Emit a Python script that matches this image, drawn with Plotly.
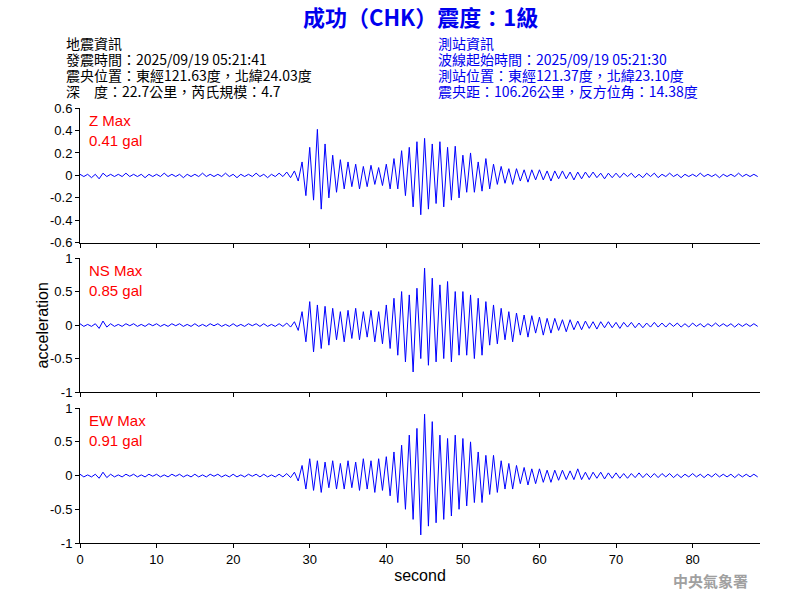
import plotly.graph_objects as go
from plotly.subplots import make_subplots

step = 0.5
z_vals = [0.01,-0.01,0.01,-0.02,0.01,-0.03,0.02,-0.01,0.01,-0.01,0.01,-0.01,0.02,-0.01,0.01,-0.01,0.01,-0.02,0.01,-0.01,
0.01,-0.01,0.02,-0.01,0.01,-0.01,0.01,-0.02,0.01,-0.01,0.01,-0.01,0.02,-0.01,0.01,-0.01,0.01,-0.01,0.02,-0.01,
0.01,-0.02,0.01,-0.01,0.01,-0.01,0.02,-0.01,0.01,-0.02,0.01,-0.01,0.02,-0.01,0.03,-0.02,0.04,-0.05,
0.12,-0.18,0.25,-0.22,0.41,-0.30,0.28,-0.20,0.18,-0.15,0.14,-0.12,0.12,-0.10,0.10,-0.12,0.08,-0.10,0.09,-0.08,0.07,-0.09,
0.10,-0.12,0.15,-0.12,0.22,-0.18,0.25,-0.28,0.30,-0.35,0.33,-0.30,0.28,-0.25,0.30,-0.28,0.25,-0.22,0.26,-0.20,
0.18,-0.15,0.20,-0.15,0.12,-0.14,0.15,-0.12,0.10,-0.08,0.08,-0.07,0.06,-0.08,0.06,-0.05,0.05,-0.06,0.05,-0.04,
0.05,-0.04,0.04,-0.05,0.04,-0.03,0.04,-0.03,0.03,-0.04,0.03,-0.03,0.03,-0.02,0.03,-0.02,0.02,-0.03,0.02,-0.02,
0.02,-0.02,0.02,-0.01,0.02,-0.02,0.01,-0.02,0.02,-0.01,0.02,-0.02,0.01,-0.01,0.02,-0.01,0.01,-0.02,0.01,-0.01,
0.01,-0.01,0.02,-0.01,0.01,-0.01,0.01,-0.02,0.01,-0.01,0.01,-0.01,0.02,-0.01,0.01,-0.01,0.01,-0.01]
ns_vals = [0.02,-0.02,0.01,-0.02,0.02,-0.05,0.06,-0.03,0.02,-0.02,0.01,-0.02,0.02,-0.01,0.02,-0.02,0.01,-0.02,0.02,-0.01,
0.02,-0.02,0.01,-0.02,0.02,-0.01,0.02,-0.02,0.01,-0.02,0.02,-0.02,0.01,-0.02,0.02,-0.01,0.02,-0.02,0.01,-0.02,
0.02,-0.02,0.01,-0.02,0.02,-0.01,0.02,-0.02,0.02,-0.02,0.01,-0.02,0.02,-0.02,0.03,-0.03,0.05,-0.08,
0.20,-0.25,0.35,-0.40,0.30,-0.35,0.28,-0.30,0.25,-0.22,0.20,-0.25,0.22,-0.20,0.25,-0.22,0.20,-0.18,0.22,-0.25,0.20,-0.28,
0.30,-0.35,0.40,-0.45,0.50,-0.55,0.45,-0.70,0.55,-0.50,0.85,-0.60,0.70,-0.55,0.60,-0.50,0.65,-0.55,0.50,-0.45,
0.50,-0.45,0.45,-0.50,0.40,-0.45,0.35,-0.30,0.30,-0.28,0.25,-0.22,0.20,-0.25,0.18,-0.15,0.15,-0.18,0.14,-0.12,
0.12,-0.15,0.10,-0.12,0.10,-0.08,0.08,-0.10,0.08,-0.07,0.06,-0.07,0.06,-0.05,0.05,-0.06,0.05,-0.04,0.05,-0.04,
0.04,-0.05,0.04,-0.03,0.04,-0.04,0.03,-0.04,0.03,-0.03,0.04,-0.03,0.03,-0.03,0.03,-0.02,0.03,-0.03,0.02,-0.03,
0.03,-0.02,0.02,-0.03,0.02,-0.02,0.03,-0.02,0.02,-0.02,0.02,-0.03,0.02,-0.02,0.02,-0.02,0.02,-0.02]
ew_vals = [0.02,-0.02,0.01,-0.02,0.02,-0.04,0.05,-0.03,0.02,-0.02,0.01,-0.02,0.02,-0.01,0.02,-0.02,0.01,-0.02,0.02,-0.01,
0.02,-0.02,0.01,-0.02,0.02,-0.01,0.02,-0.02,0.01,-0.02,0.02,-0.02,0.01,-0.02,0.02,-0.01,0.02,-0.02,0.01,-0.02,
0.02,-0.02,0.01,-0.02,0.02,-0.01,0.02,-0.02,0.02,-0.02,0.01,-0.02,0.02,-0.02,0.03,-0.03,0.05,-0.08,
0.15,-0.20,0.25,-0.22,0.22,-0.25,0.20,-0.18,0.22,-0.20,0.18,-0.20,0.22,-0.18,0.20,-0.22,0.25,-0.20,0.22,-0.25,0.25,-0.22,
0.28,-0.30,0.35,-0.40,0.45,-0.50,0.60,-0.65,0.70,-0.88,0.91,-0.75,0.80,-0.70,0.60,-0.65,0.55,-0.60,0.60,-0.50,
0.55,-0.45,0.50,-0.40,0.35,-0.40,0.30,-0.28,0.30,-0.25,0.22,-0.20,0.18,-0.20,0.15,-0.12,0.12,-0.14,0.10,-0.12,
0.10,-0.10,0.08,-0.10,0.08,-0.07,0.08,-0.06,0.07,-0.06,0.10,-0.06,0.05,-0.06,0.05,-0.04,0.05,-0.05,0.04,-0.04,
0.04,-0.04,0.03,-0.04,0.03,-0.03,0.04,-0.03,0.03,-0.03,0.03,-0.03,0.03,-0.02,0.03,-0.03,0.02,-0.03,0.02,-0.02,
0.03,-0.02,0.02,-0.03,0.02,-0.02,0.03,-0.02,0.02,-0.02,0.02,-0.03,0.02,-0.02,0.02,-0.02,0.02,-0.02]
labels = ["Z Max", "NS Max", "EW Max"]
peaks = ["0.41 gal", "0.85 gal", "0.91 gal"]
z_ticks = [-0.6, -0.4, -0.2, 0, 0.2, 0.4, 0.6]
z_ticktext = ["-0.6", "-0.4", "-0.2", "0", "0.2", "0.4", "0.6"]
h_ticks = [-1, -0.5, 0, 0.5, 1]
h_ticktext = ["-1", "-0.5", "0", "0.5", "1"]
t = [i * step for i in range(len(z_vals))]

fig = make_subplots(rows=3, cols=1, vertical_spacing=0.035)
blue = "#0000ff"
for i, v in enumerate([z_vals, ns_vals, ew_vals]):
    fig.add_trace(go.Scatter(x=t, y=v, mode="lines", line=dict(color=blue, width=1), showlegend=False), row=i+1, col=1)

axcommon = dict(showgrid=False, zeroline=False, showline=True, linecolor="black", ticks="outside", automargin=False,
                tickcolor="black", ticklen=4, tickfont=dict(size=13, color="black", family="Liberation Sans"))
for i in range(1, 4):
    fig.update_xaxes(range=[0, 88.8], dtick=10, showticklabels=(i == 3), **axcommon, row=i, col=1)
fig.update_yaxes(range=[-0.6, 0.6], tickvals=z_ticks, ticktext=z_ticktext, **axcommon, row=1, col=1)
fig.update_yaxes(range=[-1, 1], tickvals=h_ticks, ticktext=h_ticktext, **axcommon, row=2, col=1)
fig.update_yaxes(range=[-1, 1], tickvals=h_ticks, ticktext=h_ticktext, **axcommon, row=3, col=1)
fig.update_xaxes(title=dict(text="second", font=dict(size=16, family="Liberation Sans", color="black"), standoff=4), row=3, col=1)

fig.update_layout(width=800, height=600, plot_bgcolor="white", paper_bgcolor="white",
                  margin=dict(l=80, r=40, t=108, b=57, autoexpand=False))

ydoms = [(0.690, 1.0), (0.347, 0.655), (0.0, 0.310)]
for i in range(3):
    fig.update_yaxes(domain=list(ydoms[i]), row=i+1, col=1)
    top = ydoms[i][1]
    fig.add_annotation(xref="paper", yref="paper", x=0.01, y=top - 0.005, text=labels[i] + "<br>" + peaks[i],
                       showarrow=False, xanchor="left", yanchor="top", align="left",
                       font=dict(size=15, color="red", family="Liberation Sans"))

fig.add_annotation(xref="paper", yref="paper", x=-0.07, y=0.5, text="acceleration", textangle=-90,
                   showarrow=False, font=dict(size=16, family="Liberation Sans", color="black"))

fnt = "Noto Sans CJK TC"
fig.add_annotation(xref="paper", yref="paper", x=0.5, y=1.0, yshift=110, text="<b>成功（CHK）震度：1級</b>",
                   showarrow=False, font=dict(size=22, color="#0000ee", family=fnt))
left = ["地震資訊", "發震時間：2025/09/19 05:21:41", "震央位置：東經121.63度，北緯24.03度", "深　度：22.7公里，芮氏規模：4.7"]
right = ["測站資訊", "波線起始時間：2025/09/19 05:21:30", "測站位置：東經121.37度，北緯23.10度", "震央距：106.26公里，反方位角：14.38度"]
for k in range(4):
    fig.add_annotation(xref="paper", yref="paper", x=-0.024, y=1.0, yshift=77 - 16*k, text=left[k], showarrow=False,
                       xanchor="left", font=dict(size=14, color="black", family=fnt))
    fig.add_annotation(xref="paper", yref="paper", x=0.524, y=1.0, yshift=77 - 16*k, text=right[k], showarrow=False,
                       xanchor="left", font=dict(size=14, color="#0000ee", family=fnt))
fig.add_annotation(xref="paper", yref="paper", x=0.985, y=0, yshift=-50, text="<b>中央氣象署</b>", showarrow=False,
                   xanchor="right", font=dict(size=15, color="#a0a0a0", family=fnt))
fig.write_html("out.html", config={"displayModeBar": False}, post_script="document.body.style.margin='0';")
